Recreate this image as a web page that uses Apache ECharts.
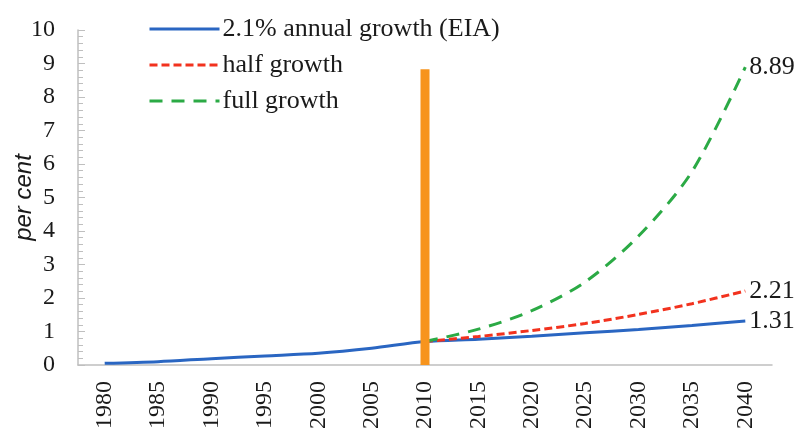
<!DOCTYPE html>
<html>
<head>
<meta charset="utf-8">
<script src="https://cdn.jsdelivr.net/npm/echarts@6/dist/echarts.min.js"></script>
<style>
  html, body { margin: 0; padding: 0; background: #fff; }
  #main { width: 798px; height: 432px; }
</style>
</head>
<body>
<div id="main"></div>
<script>
// x轴年份
var years = ['1980', '1985', '1990', '1995', '2000', '2005', '2010', '2015', '2020', '2025', '2030', '2035', '2040'];
// 2.1% 年增长 (EIA)
var eiaData = [0.05, 0.1, 0.19, 0.27, 0.35, 0.5, 0.7, 0.77, 0.86, 0.96, 1.06, 1.18, 1.31];
// 半增长
var halfData = [null, null, null, null, null, null, 0.7, 0.85, 1.03, 1.24, 1.51, 1.83, 2.21];
// 全增长
var fullData = [null, null, null, null, null, null, 0.7, 1.07, 1.62, 2.48, 3.85, 5.77, 8.89];
// 2010 竖条
var markerData = [null, null, null, null, null, null, 8.83, null, null, null, null, null, null];

var serif = 'Liberation Serif';
var axisColor = '#BFBFBF';
var textColor = '#1a1a1a';

// 末端数值标签
function endLabel() {
  return {
    show: true,
    distance: 4,
    fontFamily: serif,
    fontSize: 26,
    color: textColor,
    formatter: function (p) {
      return Number(p.value).toFixed(2);
    }
  };
}

var myChart = echarts.init(document.getElementById('main'));
myChart.setOption({
  animation: false,
  grid: { left: 78, right: 26, top: 30, bottom: 67, containLabel: false, outerBoundsMode: 'none' },
  legend: {
    orient: 'vertical',
    left: 148,
    top: 14,
    padding: 0,
    itemWidth: 70,
    itemHeight: 14,
    itemGap: 6,
    itemStyle: { opacity: 0 },
    lineStyle: { width: 3 },
    data: ['2.1% annual growth (EIA)', 'half growth', 'full growth'],
    textStyle: { fontFamily: serif, fontSize: 26, color: textColor, lineHeight: 30, padding: [0, 0, 0, -2] }
  },
  xAxis: {
    type: 'category',
    data: years,
    boundaryGap: true,
    axisLine: { lineStyle: { color: axisColor, width: 1.5 } },
    axisTick: { inside: true, length: 6, lineStyle: { color: axisColor } },
    axisLabel: { rotate: 90, margin: 16, fontFamily: serif, fontSize: 24, color: textColor },
    splitLine: { show: false }
  },
  yAxis: {
    type: 'value',
    min: 0,
    max: 10,
    interval: 1,
    name: 'per cent',
    nameLocation: 'middle',
    nameGap: 42,
    nameMoveOverlap: false,
    nameTextStyle: { fontFamily: 'Liberation Sans', fontStyle: 'italic', fontSize: 24, color: textColor },
    axisLine: { show: true, lineStyle: { color: axisColor, width: 1.5 } },
    axisTick: { show: true, inside: true, length: 7, lineStyle: { color: axisColor } },
    minorTick: { show: true, splitNumber: 5, length: 5, lineStyle: { color: axisColor } },
    axisLabel: { margin: 23, fontFamily: serif, fontSize: 24, color: textColor },
    splitLine: { show: false }
  },
  series: [
    {
      name: '2.1% annual growth (EIA)',
      type: 'line',
      data: eiaData,
      symbol: 'none',
      smooth: 0.3,
      color: '#2A66C2',
      lineStyle: { width: 3 },
      endLabel: endLabel(),
      z: 2
    },
    {
      name: 'half growth',
      type: 'line',
      data: halfData,
      symbol: 'none',
      smooth: 0.3,
      color: '#F2321E',
      lineStyle: { width: 3, type: [8, 4] },
      endLabel: endLabel(),
      z: 3
    },
    {
      name: 'full growth',
      type: 'line',
      data: fullData,
      symbol: 'none',
      smooth: 0.3,
      color: '#2BAA45',
      lineStyle: { width: 3, type: [13, 9] },
      endLabel: endLabel(),
      z: 3
    },
    {
      name: 'marker',
      type: 'bar',
      data: markerData,
      barWidth: 9,
      barGap: '-100%',
      color: '#F7941D',
      z: 5
    }
  ]
});
</script>
</body>
</html>
